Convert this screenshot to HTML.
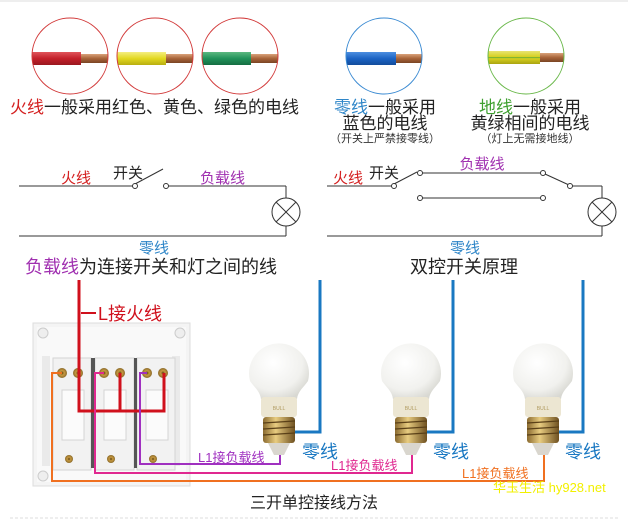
<!DOCTYPE html>
<html><head><meta charset="utf-8"><style>
html,body{margin:0;padding:0;background:#fff;}
svg{display:block;}
text{font-family:"Liberation Sans","Noto Sans CJK SC",sans-serif;}
</style></head><body>
<svg width="628" height="523" viewBox="0 0 628 523" xmlns="http://www.w3.org/2000/svg">
<defs>
<linearGradient id="cu" x1="0" y1="0" x2="0" y2="1"><stop offset="0" stop-color="#d9a27a"/><stop offset=".5" stop-color="#a8643a"/><stop offset="1" stop-color="#7a4424"/></linearGradient>
<linearGradient id="red" x1="0" y1="0" x2="0" y2="1"><stop offset="0" stop-color="#e0545a"/><stop offset=".5" stop-color="#c4202a"/><stop offset="1" stop-color="#9a1820"/></linearGradient>
<linearGradient id="yel" x1="0" y1="0" x2="0" y2="1"><stop offset="0" stop-color="#f4ee80"/><stop offset=".5" stop-color="#e2d820"/><stop offset="1" stop-color="#b8ae10"/></linearGradient>
<linearGradient id="grn" x1="0" y1="0" x2="0" y2="1"><stop offset="0" stop-color="#5cb880"/><stop offset=".5" stop-color="#21925a"/><stop offset="1" stop-color="#156e42"/></linearGradient>
<linearGradient id="blu" x1="0" y1="0" x2="0" y2="1"><stop offset="0" stop-color="#4c8ee0"/><stop offset=".5" stop-color="#1c64c4"/><stop offset="1" stop-color="#134c9c"/></linearGradient>
<linearGradient id="yg" x1="0" y1="0" x2="0" y2="1"><stop offset="0" stop-color="#e8e470"/><stop offset=".45" stop-color="#d6d020"/><stop offset=".5" stop-color="#5aa83a"/><stop offset=".58" stop-color="#d6d020"/><stop offset="1" stop-color="#aaa410"/></linearGradient>
<radialGradient id="glob" cx=".4" cy=".35" r=".7"><stop offset="0" stop-color="#ffffff"/><stop offset=".7" stop-color="#f1f1ee"/><stop offset="1" stop-color="#d8d8d2"/></radialGradient>
<linearGradient id="scr" x1="0" y1="0" x2="1" y2="0"><stop offset="0" stop-color="#8a6a30"/><stop offset=".4" stop-color="#e8cc80"/><stop offset="1" stop-color="#6e5020"/></linearGradient>
<radialGradient id="brass" cx=".5" cy=".5" r=".5"><stop offset="0" stop-color="#5a4010"/><stop offset=".45" stop-color="#c89a40"/><stop offset="1" stop-color="#8a6a2a"/></radialGradient>
<clipPath id="c1"><circle cx="70" cy="56" r="38"/></clipPath>
<clipPath id="c2"><circle cx="155" cy="56" r="38"/></clipPath>
<clipPath id="c3"><circle cx="240" cy="56" r="38"/></clipPath>
<clipPath id="c4"><circle cx="384" cy="56" r="38"/></clipPath>
<clipPath id="c5"><circle cx="526" cy="56" r="38"/></clipPath>
<g id="bulb">
  <path d="M-29,8 A30,30 0 1 1 29,8 C25,14 19,18 18,26 L-18,26 C-19,18 -25,14 -29,8Z" fill="url(#glob)"/>
  <rect x="-18" y="24" width="36" height="20" rx="3" fill="#ece6d2"/>
  <text x="0" y="37" font-size="5" fill="#b09a60" text-anchor="middle">BULL</text>
  <rect x="-16" y="44" width="32" height="26" rx="3" fill="url(#scr)"/>
  <g stroke="#5a4018" stroke-width="1.2"><line x1="-16" y1="50" x2="16" y2="48"/><line x1="-16" y1="56" x2="16" y2="54"/><line x1="-16" y1="62" x2="16" y2="60"/></g>
  <path d="M-11,70 L11,70 L5,82 L-5,82Z" fill="#d9d6ce"/>
</g>
</defs>

<line x1="0" y1="1" x2="628" y2="1" stroke="#eee" stroke-width="2"/>

<g clip-path="url(#c1)"><rect x="30" y="52" width="51" height="13" fill="url(#red)"/><rect x="81" y="54" width="30" height="9" fill="url(#cu)"/></g>
<circle cx="70" cy="56" r="38" fill="none" stroke="#d23a3a" stroke-width="1"/>
<g clip-path="url(#c2)"><rect x="115" y="52" width="51" height="13" fill="url(#yel)"/><rect x="166" y="54" width="30" height="9" fill="url(#cu)"/></g>
<circle cx="155" cy="56" r="38" fill="none" stroke="#d23a3a" stroke-width="1"/>
<g clip-path="url(#c3)"><rect x="200" y="52" width="51" height="13" fill="url(#grn)"/><rect x="251" y="54" width="30" height="9" fill="url(#cu)"/></g>
<circle cx="240" cy="56" r="38" fill="none" stroke="#d23a3a" stroke-width="1"/>
<g clip-path="url(#c4)"><rect x="344" y="52" width="52" height="13" fill="url(#blu)"/><rect x="396" y="54" width="30" height="9" fill="url(#cu)"/></g>
<circle cx="384" cy="56" r="38" fill="none" stroke="#3a8ad2" stroke-width="1"/>
<g clip-path="url(#c5)"><rect x="486" y="51" width="54" height="13" fill="url(#yg)"/><rect x="540" y="53" width="30" height="9" fill="url(#cu)"/></g>
<circle cx="526" cy="56" r="38" fill="none" stroke="#6ab84a" stroke-width="1"/>

<g font-size="17">
<text x="10" y="113"><tspan fill="#d42020">火线</tspan><tspan fill="#222">一般采用红色、黄色、绿色的电线</tspan></text>
<text x="385" y="113" text-anchor="middle"><tspan fill="#2f86c8">零线</tspan><tspan fill="#222">一般采用</tspan></text>
<text x="385" y="129" text-anchor="middle" fill="#222">蓝色的电线</text>
<text x="530" y="113" text-anchor="middle"><tspan fill="#3fa030">地线</tspan><tspan fill="#222">一般采用</tspan></text>
<text x="530" y="129" text-anchor="middle" fill="#222">黄绿相间的电线</text>
</g>
<text x="385" y="142" text-anchor="middle" font-size="11" fill="#333">（开关上严禁接零线）</text>
<text x="530" y="142" text-anchor="middle" font-size="11" fill="#333">（灯上无需接地线）</text>

<g stroke="#333" stroke-width="1" fill="none">
<line x1="19" y1="186" x2="133" y2="186"/>
<line x1="135" y1="184" x2="163" y2="169"/>
<line x1="168" y1="186" x2="286" y2="186"/>
<line x1="286" y1="186" x2="286" y2="198"/>
<circle cx="286" cy="212" r="14"/>
<line x1="276" y1="202" x2="296" y2="222"/><line x1="296" y1="202" x2="276" y2="222"/>
<line x1="286" y1="226" x2="286" y2="236"/>
<line x1="19" y1="236" x2="286" y2="236"/>
<circle cx="135" cy="186" r="2.5" fill="#fff"/>
<circle cx="166" cy="186" r="2.5" fill="#fff"/>
</g>
<text x="61" y="183" font-size="15" fill="#d42020">火线</text>
<text x="113" y="178" font-size="15" fill="#222">开关</text>
<text x="200" y="183" font-size="15" fill="#a030b0">负载线</text>
<text x="154" y="253" font-size="15" fill="#2f86c8" text-anchor="middle">零线</text>
<text x="25" y="273" font-size="18"><tspan fill="#a030b0">负载线</tspan><tspan fill="#222">为连接开关和灯之间的线</tspan></text>

<g stroke="#333" stroke-width="1" fill="none">
<line x1="327" y1="186" x2="392" y2="186"/>
<line x1="394" y1="184" x2="417" y2="172"/>
<line x1="422" y1="173" x2="541" y2="173"/>
<line x1="545" y1="174" x2="569" y2="185"/>
<line x1="422" y1="198" x2="541" y2="198"/>
<line x1="572" y1="186" x2="602" y2="186"/>
<line x1="602" y1="186" x2="602" y2="198"/>
<circle cx="602" cy="212" r="14"/>
<line x1="592" y1="202" x2="612" y2="222"/><line x1="612" y1="202" x2="592" y2="222"/>
<line x1="602" y1="226" x2="602" y2="236"/>
<line x1="327" y1="236" x2="602" y2="236"/>
<circle cx="394" cy="186" r="2.5" fill="#fff"/>
<circle cx="420" cy="173" r="2.5" fill="#fff"/>
<circle cx="543" cy="173" r="2.5" fill="#fff"/>
<circle cx="570" cy="186" r="2.5" fill="#fff"/>
<circle cx="420" cy="198" r="2.5" fill="#fff"/>
<circle cx="543" cy="198" r="2.5" fill="#fff"/>
</g>
<text x="333" y="183" font-size="15" fill="#d42020">火线</text>
<text x="369" y="178" font-size="15" fill="#222">开关</text>
<text x="482" y="169" font-size="15" fill="#a030b0" text-anchor="middle">负载线</text>
<text x="465" y="253" font-size="15" fill="#2f86c8" text-anchor="middle">零线</text>
<text x="464" y="273" font-size="18" fill="#222" text-anchor="middle">双控开关原理</text>

<rect x="33" y="323" width="157" height="163" fill="#f4f4f4" stroke="#ddd"/>
<rect x="37" y="327" width="149" height="155" fill="#f9f9f9"/>
<circle cx="43" cy="333" r="5" fill="#eee" stroke="#ccc"/>
<circle cx="180" cy="333" r="5" fill="#eee" stroke="#ccc"/>
<circle cx="43" cy="476" r="5" fill="#eee" stroke="#ccc"/>
<rect x="42" y="356" width="8" height="110" fill="#eaeaea"/>
<rect x="172" y="356" width="8" height="110" fill="#eaeaea"/>
<g fill="#f2f2f2" stroke="#d4d4d4">
<rect x="53" y="358" width="38" height="112"/>
<rect x="95" y="358" width="39" height="112"/>
<rect x="137" y="358" width="38" height="112"/>
<rect x="62" y="390" width="22" height="50" fill="#fbfbfb"/>
<rect x="104" y="390" width="22" height="50" fill="#fbfbfb"/>
<rect x="146" y="390" width="22" height="50" fill="#fbfbfb"/>
</g>
<rect x="91" y="358" width="4" height="110" fill="#555"/>
<rect x="134" y="358" width="3" height="110" fill="#555"/>
<g fill="url(#brass)">
<circle cx="62" cy="373" r="5"/><circle cx="78" cy="373" r="5"/>
<circle cx="104" cy="373" r="5"/><circle cx="120" cy="373" r="5"/>
<circle cx="147" cy="373" r="5"/><circle cx="163" cy="373" r="5"/>
<circle cx="69" cy="459" r="4"/><circle cx="111" cy="459" r="4"/><circle cx="153" cy="459" r="4"/>
</g>

<g stroke="#d0101c" stroke-width="3" fill="none">
<polyline points="79,280 79,411 164,411 164,373"/>
<line x1="120" y1="373" x2="120" y2="411"/>
<line x1="81" y1="313" x2="96" y2="313" stroke-width="2"/>
</g>
<text x="98" y="320" font-size="18" fill="#d0101c">L接火线</text>

<polyline points="62,373 52,373 52,481 544,481 544,455" fill="none" stroke="#f07020" stroke-width="2"/>
<polyline points="104,373 95,373 95,473 412,473 412,453" fill="none" stroke="#e02890" stroke-width="2"/>
<polyline points="147,373 140,373 140,464 280,464 280,455" fill="none" stroke="#a030c0" stroke-width="2"/>
<text x="198" y="462" font-size="13" fill="#a030c0">L1接负载线</text>
<text x="331" y="470" font-size="13" fill="#e02890">L1接负载线</text>
<text x="462" y="478" font-size="13" fill="#f07020">L1接负载线</text>

<use href="#bulb" x="279" y="373"/>
<use href="#bulb" x="411" y="373"/>
<use href="#bulb" x="543" y="373"/>

<g stroke="#1a78c2" stroke-width="3" fill="none">
<polyline points="320,280 320,432 295,432"/>
<polyline points="453,280 453,432 427,432"/>
<polyline points="583,280 583,432 559,432"/>
</g>
<g font-size="18" fill="#1a78c2">
<text x="302" y="458">零线</text>
<text x="433" y="458">零线</text>
<text x="565" y="458">零线</text>
</g>
<text x="493" y="492" font-size="13" fill="#f2f000" font-family="'Liberation Mono','Noto Serif CJK SC',monospace">华玉生活 hy928.net</text>
<text x="314" y="508" font-size="16" fill="#222" text-anchor="middle">三开单控接线方法</text>
<line x1="10" y1="518" x2="618" y2="518" stroke="#ddd" stroke-dasharray="3,2"/>
</svg>
</body></html>
